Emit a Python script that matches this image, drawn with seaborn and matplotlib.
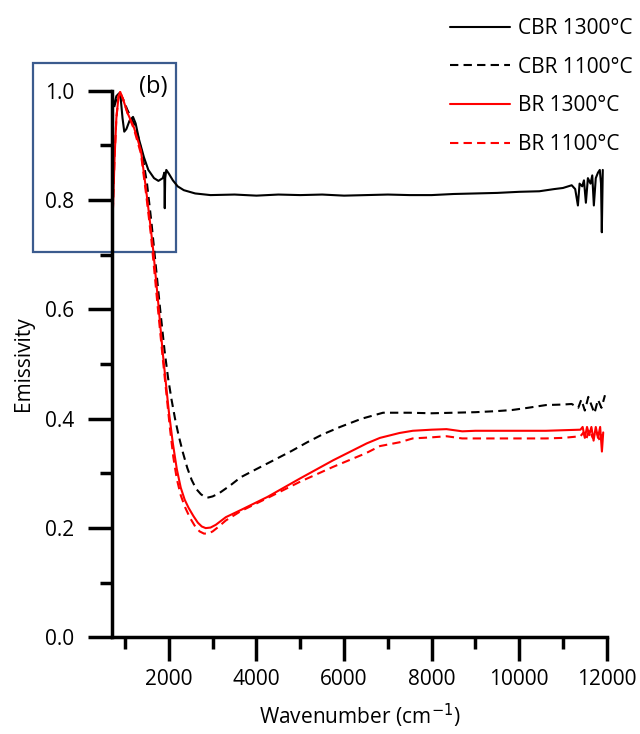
import matplotlib

matplotlib.use("Agg")
import numpy as np
import pandas as pd
import matplotlib.pyplot as plt
import seaborn as sns
from matplotlib.patches import Rectangle
from matplotlib.ticker import MultipleLocator

# %% data
cbr1300_x = [750, 800, 860, 900, 940, 980, 1030, 1100, 1180, 1240, 1320, 1430,
             1530, 1660, 1760, 1860, 1895, 1905, 1915, 1940, 2000, 2090, 2200,
             2340, 2600, 2950, 3500, 4000, 4500, 5000, 5500, 6000, 6500, 7000,
             7500, 8000, 8500, 9000, 9500, 10000, 10460, 10800, 11000, 11200,
             11280, 11342, 11380, 11440, 11480, 11524, 11570, 11630, 11670,
             11706, 11750, 11800, 11842, 11870, 11888, 11910]
cbr1300_y = [0.975, 0.99, 0.995, 0.985, 0.95, 0.925, 0.93, 0.945, 0.952, 0.94,
             0.91, 0.878, 0.855, 0.84, 0.835, 0.84, 0.85, 0.785, 0.84, 0.855,
             0.848, 0.836, 0.825, 0.818, 0.812, 0.809, 0.81, 0.808, 0.81, 0.809,
             0.81, 0.808, 0.809, 0.81, 0.809, 0.809, 0.811, 0.812, 0.813, 0.815,
             0.816, 0.82, 0.822, 0.827, 0.82, 0.79, 0.83, 0.825, 0.836, 0.795,
             0.84, 0.83, 0.845, 0.79, 0.84, 0.85, 0.855, 0.83, 0.741, 0.855]

cbr1100_x = [750, 820, 880, 950, 1050, 1200, 1300, 1400, 1500, 1600, 1700, 1800,
             1900, 1980, 2060, 2140, 2220, 2320, 2420, 2520, 2620, 2730, 2820,
             2900, 3000, 3150, 3400, 3640, 4000, 4390, 4800, 5160, 5500, 5910,
             6400, 6890, 7500, 8000, 8500, 9000, 9500, 9840, 10200, 10610,
             11000, 11200, 11350, 11420, 11500, 11580, 11650, 11720, 11800,
             11880, 11960]
cbr1100_y = [0.97, 0.99, 0.993, 0.985, 0.965, 0.94, 0.915, 0.88, 0.83, 0.76,
             0.68, 0.6, 0.525, 0.475, 0.435, 0.4, 0.37, 0.338, 0.31, 0.288,
             0.272, 0.262, 0.257, 0.256, 0.258, 0.264, 0.278, 0.293, 0.308,
             0.324, 0.341, 0.357, 0.371, 0.385, 0.4, 0.411, 0.411, 0.41, 0.411,
             0.412, 0.414, 0.416, 0.42, 0.425, 0.426, 0.427, 0.42, 0.435, 0.415,
             0.44, 0.425, 0.41, 0.435, 0.42, 0.443]

br1300_x = [720, 760, 800, 850, 886, 950, 1050, 1200, 1360, 1480, 1590, 1640,
            1750, 1860, 1950, 2000, 2090, 2180, 2270, 2360, 2450, 2560, 2660,
            2750, 2840, 2950, 3070, 3300, 3640, 4250, 5000, 5750, 6520, 6820,
            7270, 7570, 8000, 8340, 8700, 9000, 9500, 10000, 10610, 11000,
            11400, 11450, 11500, 11550, 11600, 11650, 11700, 11750, 11800,
            11850, 11890, 11920]
br1300_y = [0.78, 0.88, 0.95, 0.99, 0.998, 0.985, 0.96, 0.933, 0.891, 0.818,
            0.745, 0.709, 0.617, 0.52, 0.45, 0.412, 0.355, 0.308, 0.274,
            0.252, 0.237, 0.222, 0.21, 0.203, 0.2, 0.201, 0.206, 0.22, 0.233,
            0.257, 0.291, 0.324, 0.355, 0.365, 0.374, 0.378, 0.38, 0.381,
            0.377, 0.378, 0.378, 0.378, 0.378, 0.379, 0.38, 0.385, 0.365,
            0.385, 0.37, 0.385, 0.36, 0.385, 0.365, 0.385, 0.34, 0.375]

br1100_x = [720, 760, 800, 850, 880, 950, 1050, 1200, 1360, 1480, 1590, 1750,
            1860, 1950, 2020, 2100, 2180, 2270, 2370, 2480, 2600, 2700, 2800,
            2900, 3000, 3110, 3300, 3640, 4250, 5000, 5750, 6500, 6820, 7270,
            7570, 8000, 8340, 8700, 9500, 10610, 11000, 11400, 11470, 11530,
            11600, 11680, 11760, 11840, 11900]
br1100_y = [0.78, 0.88, 0.95, 0.99, 0.998, 0.985, 0.96, 0.93, 0.885, 0.81,
            0.735, 0.6, 0.51, 0.44, 0.385, 0.33, 0.29, 0.26, 0.238, 0.219,
            0.203, 0.194, 0.19, 0.19, 0.194, 0.201, 0.214, 0.231, 0.255,
            0.285, 0.312, 0.337, 0.35, 0.357, 0.364, 0.366, 0.368, 0.364,
            0.364, 0.364, 0.365, 0.368, 0.375, 0.362, 0.38, 0.365, 0.378,
            0.36, 0.372]

labels = ["CBR 1300°C", "CBR 1100°C", "BR 1300°C", "BR 1100°C"]
xticks = [2000, 4000, 6000, 8000, 10000, 12000]
yticks = [0.0, 0.2, 0.4, 0.6, 0.8, 1.0]

# %% plot
sns.set_theme(style="white")
plt.rcParams["font.family"] = ["Open Sans", "DejaVu Sans"]
plt.rcParams.update({"text.color": "black", "axes.labelcolor": "black",
                     "xtick.color": "black", "ytick.color": "black"})

fig = plt.figure(figsize=(6.4, 7.34), dpi=100)
ax = fig.add_axes([0.175, 0.1315, 0.773, 0.745])

series = [
    (cbr1300_x, cbr1300_y, "black", "-"),
    (cbr1100_x, cbr1100_y, "black", (0, (4, 2.5))),
    (br1300_x, br1300_y, "red", "-"),
    (br1100_x, br1100_y, "red", (0, (4, 2.5))),
]
for (xs, ys, col, ls), lab in zip(series, labels):
    sns.lineplot(x=xs, y=ys, ax=ax, color=col, linestyle=ls, linewidth=1.5,
                 label=lab, estimator=None, sort=False)

ax.set_xlim(700, 12000)
ax.set_ylim(0, 1.0)
ax.set_xticks(xticks)
ax.set_yticks(yticks)
ax.set_yticklabels([f"{v:.1f}" for v in yticks])
ax.xaxis.set_minor_locator(MultipleLocator(1000))
ax.yaxis.set_minor_locator(MultipleLocator(0.1))

for side in ["top", "right"]:
    ax.spines[side].set_visible(False)
for side in ["left", "bottom"]:
    ax.spines[side].set_linewidth(2.5)
    ax.spines[side].set_color("black")

ax.tick_params(which="major", direction="out", length=17, width=2.5,
               labelsize=15, bottom=True, left=True)
ax.tick_params(which="minor", direction="out", length=8.5, width=2.5,
               bottom=True, left=True)
ax.tick_params(axis="y", which="major", pad=10)
ax.tick_params(axis="x", which="major", pad=6)

ax.set_xlabel("Wavenumber (cm$^{-1}$)", fontsize=15, labelpad=8)
ax.set_ylabel("Emissivity", fontsize=15, labelpad=8)

# highlighted corner region and panel tag
ax.add_patch(Rectangle((-1114, 0.705), 3274, 0.345, fill=False,
                       edgecolor="#3b5b8e", linewidth=1.6, clip_on=False))
ax.text(1640, 1.006, "(b)", fontsize=17, ha="center", va="center")

ax.legend(loc="upper left", bbox_to_anchor=(450 / 640, 1 - 18 / 734),
          bbox_transform=fig.transFigure, frameon=False, fontsize=15,
          handlelength=2.9, handletextpad=0.35, labelspacing=0.85,
          borderpad=0, borderaxespad=0)

fig.savefig("out.png", dpi=100)
